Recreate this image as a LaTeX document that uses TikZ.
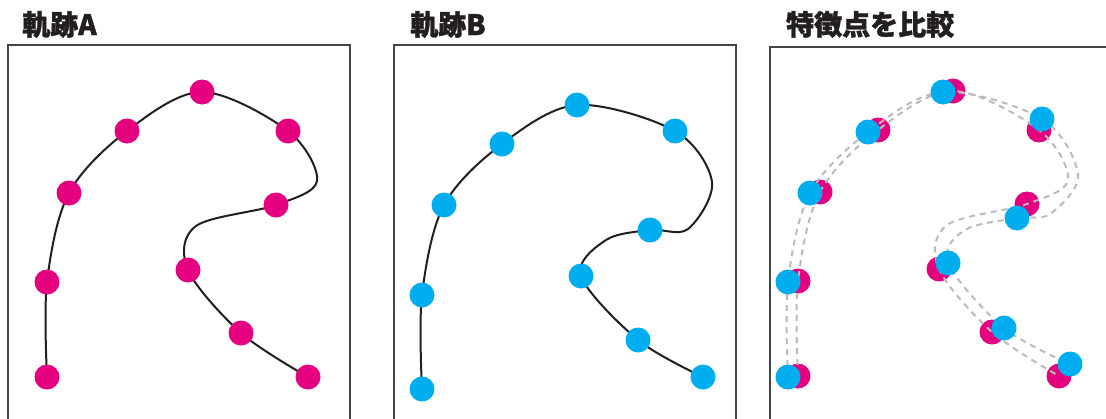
\documentclass[tikz,border=0pt]{standalone}
\usepackage{fontspec}
\newfontfamily\cjk{Noto Sans CJK JP}[BoldFeatures={FakeBold=1.3}]
\definecolor{mag}{HTML}{E4007F}
\definecolor{cya}{HTML}{00AEEF}
\definecolor{framegray}{HTML}{444444}
\definecolor{dashgray}{HTML}{BBBBBB}
\definecolor{ink}{HTML}{231F20}
\begin{document}
\begin{tikzpicture}[x=1pt,y=-1pt,
  panel/.style={draw=framegray, line width=1.2pt},
  trail/.style={draw=ink, line width=2pt},
  dtrail/.style={draw=dashgray, line width=2pt, dash pattern=on 6pt off 5pt},
  mdot/.style={circle, fill=mag, minimum size=25pt, inner sep=0pt},
  cdot/.style={circle, fill=cya, minimum size=25pt, inner sep=0pt},
  title/.style={anchor=base west, inner sep=0pt, text=ink, font=\cjk\bfseries\fontsize{28}{28}\selectfont}]
\clip (0,0) rectangle (1106,418);
\fill[white] (0,0) rectangle (1106,418);

% titles
\node[title] (tA) at (22,35) {軌跡A};
\node[title] (tB) at (410,35) {軌跡B};
\node[title] (tC) at (786,35) {特徴点を比較};

% panels
\draw[panel] (8,440) -- (8,45) -- (350,45) -- (350,440);
\draw[panel] (394,440) -- (394,45) -- (736,45) -- (736,440);
\draw[panel] (770,440) -- (770,47) -- (1120,47);

% ---------- trajectory A ----------
\coordinate (a1) at (47,377);
\coordinate (a2) at (47,282);
\coordinate (a3) at (69,193);
\coordinate (a4) at (127,131);
\coordinate (a5) at (202,92);
\coordinate (a6) at (288,131);
\coordinate (aw1) at (317,181);
\coordinate (a7) at (276,205);
\coordinate (aw2) at (196,226);
\coordinate (a8) at (188,270);
\coordinate (a9) at (241,333);
\coordinate (a10) at (308,377);
\draw[trail] plot[smooth, tension=0.55] coordinates {(a1) (a2) (a3) (a4) (a5) (a6) (aw1) (a7) (aw2) (a8) (a9) (a10)};
\foreach \p in {a1,a2,a3,a4,a5,a6,a7,a8,a9,a10}
  \node[mdot] (n\p) at (\p) {};

% ---------- trajectory B ----------
\coordinate (b1) at (422,389);
\coordinate (b2) at (422,295);
\coordinate (b3) at (444,205);
\coordinate (b4) at (502,144);
\coordinate (b5) at (577,105);
\coordinate (b6) at (675,131);
\coordinate (bw1) at (712,182);
\coordinate (bw2) at (688,229);
\coordinate (b7) at (650,230);
\coordinate (bw3) at (606,240);
\coordinate (b8) at (581,276);
\coordinate (b9) at (638,340);
\coordinate (b10) at (703,377);
\draw[trail] plot[smooth, tension=0.55] coordinates {(b1) (b2) (b3) (b4) (b5) (b6) (bw1) (bw2) (b7) (bw3) (b8) (b9) (b10)};
\foreach \p in {b1,b2,b3,b4,b5,b6,b7,b8,b9,b10}
  \node[cdot] (n\p) at (\p) {};

% ---------- comparison ----------
\coordinate (m1) at (798,376);
\coordinate (m2) at (798,281);
\coordinate (m3) at (820,192);
\coordinate (m4) at (878,130);
\coordinate (m5) at (953,91);
\coordinate (m6) at (1039,130);
\coordinate (mw1) at (1068,180);
\coordinate (m7) at (1027,204);
\coordinate (mw2) at (947,225);
\coordinate (m8) at (939,269);
\coordinate (m9) at (992,332);
\coordinate (m10) at (1059,376);

\coordinate (c1) at (788,377);
\coordinate (c2) at (788,282);
\coordinate (c3) at (810,193);
\coordinate (c4) at (868,132);
\coordinate (c5) at (943,92);
\coordinate (c6) at (1042,119);
\coordinate (cw1) at (1078,175);
\coordinate (cw2) at (1050,214);
\coordinate (c7) at (1017,218);
\coordinate (cw3) at (965,230);
\coordinate (c8) at (948,263);
\coordinate (c9) at (1004,328);
\coordinate (c10) at (1070,364);

\foreach \p in {m1,m2,m3,m4,m5,m6,m7,m8,m9,m10}
  \node[mdot] (n\p) at (\p) {};
\draw[dtrail] plot[smooth, tension=0.55] coordinates {(m1) (m2) (m3) (m4) (m5) (m6) (mw1) (m7) (mw2) (m8) (m9) (m10)};
\draw[dtrail] plot[smooth, tension=0.55] coordinates {(c1) (c2) (c3) (c4) (c5) (c6) (cw1) (cw2) (c7) (cw3) (c8) (c9) (c10)};
\foreach \p in {c1,c2,c3,c4,c5,c6,c7,c8,c9,c10}
  \node[cdot] (n\p) at (\p) {};
\end{tikzpicture}
\end{document}
